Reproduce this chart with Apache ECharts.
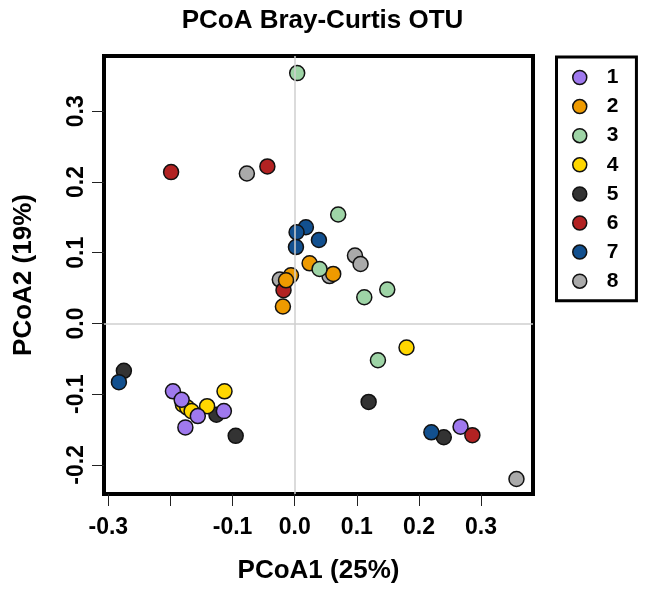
<!DOCTYPE html>
<html>
<head>
<meta charset="utf-8">
<title>PCoA Bray-Curtis OTU</title>
<script src="https://cdn.jsdelivr.net/npm/echarts@6/dist/echarts.min.js"></script>
<style>
  html, body { margin: 0; padding: 0; background: #fff; }
  #chart { width: 645px; height: 589px; }
</style>
</head>
<body>
<div id="chart"></div>
<script>
// Sample coordinates on the first two principal coordinates, one array per group
const group1 = [[-0.196, -0.096], [-0.182, -0.108], [-0.156, -0.131], [-0.114, -0.124], [-0.176, -0.147], [0.267, -0.146]];
const group2 = [[0.024, 0.085], [0.062, 0.070], [-0.006, 0.068], [-0.014, 0.061], [-0.019, 0.024]];
const group3 = [[0.004, 0.354], [0.070, 0.154], [0.040, 0.077], [0.112, 0.037], [0.149, 0.048], [0.134, -0.052]];
const group4 = [[0.180, -0.034], [-0.113, -0.096], [-0.141, -0.117], [-0.180, -0.115], [-0.173, -0.119], [-0.166, -0.124]];
const group5 = [[-0.275, -0.067], [0.119, -0.111], [0.240, -0.161], [-0.095, -0.159], [-0.126, -0.129]];
const group6 = [[-0.199, 0.214], [-0.044, 0.222], [-0.018, 0.047], [0.286, -0.158]];
const group7 = [[0.018, 0.136], [0.003, 0.129], [0.039, 0.118], [0.002, 0.108], [-0.283, -0.083], [0.220, -0.154]];
const group8 = [[-0.077, 0.212], [0.097, 0.096], [0.106, 0.084], [-0.024, 0.062], [0.056, 0.067], [0.357, -0.220]];

const groupNames = ['1', '2', '3', '4', '5', '6', '7', '8'];
const groupColors = ['#9F79EE', '#EE9A00', '#9ED4A6', '#FFD700', '#333333', '#B22222', '#12508F', '#AAAAAA'];
const groupData = [group1, group2, group3, group4, group5, group6, group7, group8];

// Tick positions and labelled ticks
const xTicks = [-0.3, -0.2, -0.1, 0, 0.1, 0.2, 0.3];
const xTickLabels = [-0.3, -0.1, 0, 0.1, 0.2, 0.3];
const yTicks = [-0.2, -0.1, 0, 0.1, 0.2, 0.3];

// Stacking order of the groups (first drawn at the bottom)
const drawOrder = [7, 4, 3, 6, 0, 5, 1, 2];

const FONT = '"Liberation Sans", Arial, Helvetica, sans-serif';

const chart = echarts.init(document.getElementById('chart'), null, { renderer: 'canvas' });

const series = [{
  // zero reference lines
  type: 'scatter',
  data: [],
  silent: true,
  markLine: {
    silent: true,
    symbol: 'none',
    label: { show: false },
    lineStyle: { color: '#cfcfcf', width: 1.5, type: 'solid' },
    data: [{ xAxis: 0 }, { yAxis: 0 }]
  }
}];

drawOrder.forEach(function (i) {
  series.push({
    type: 'scatter',
    name: groupNames[i],
    data: groupData[i],
    symbol: 'circle',
    symbolSize: 15,
    itemStyle: { color: groupColors[i], borderColor: '#111', borderWidth: 1.5, opacity: 1 },
    emphasis: { disabled: true }
  });
});

chart.setOption({
  animation: false,
  backgroundColor: '#fff',
  title: {
    text: 'PCoA Bray-Curtis OTU',
    left: 'center',
    top: 8,
    padding: 0,
    textStyle: { fontSize: 26, fontWeight: 'bold', color: '#000', fontFamily: FONT }
  },
  grid: {
    left: 104,
    top: 56,
    right: 112,
    bottom: 92,
    show: true,
    borderColor: '#000',
    borderWidth: 4,
    backgroundColor: 'transparent'
  },
  legend: {
    data: groupNames,
    orient: 'vertical',
    left: 556.5,
    top: 57,
    padding: [10, 18, 9, 15.5],
    itemWidth: 30,
    itemHeight: 14,
    itemGap: 8.1,
    icon: 'circle',
    selectedMode: false,
    borderColor: '#000',
    borderWidth: 3,
    itemStyle: { borderColor: '#111', borderWidth: 1.5 },
    textStyle: { fontSize: 21, fontWeight: 'bold', color: '#000', fontFamily: FONT, lineHeight: 20, padding: [0, 0, 0, 7] }
  },
  xAxis: {
    type: 'value',
    min: -0.307,
    max: 0.3836,
    axisLine: { show: false, onZero: false },
    splitLine: { show: false },
    axisTick: { show: true, length: 12, customValues: xTicks, lineStyle: { color: '#222', width: 1 } },
    axisLabel: {
      customValues: xTickLabels,
      formatter: function (v) { return Number(v).toFixed(1); },
      fontSize: 23,
      fontWeight: 'bold',
      color: '#000',
      fontFamily: FONT,
      margin: 22
    },
    name: 'PCoA1 (25%)',
    nameLocation: 'middle',
    nameGap: 64,
    nameTextStyle: { fontSize: 26, fontWeight: 'bold', color: '#000', fontFamily: FONT }
  },
  yAxis: {
    type: 'value',
    min: -0.2412,
    max: 0.3782,
    axisLine: { show: false, onZero: false },
    splitLine: { show: false },
    axisTick: { show: true, length: 12, customValues: yTicks, lineStyle: { color: '#222', width: 1 } },
    axisLabel: {
      customValues: yTicks,
      formatter: function (v) { return Number(v).toFixed(1); },
      rotate: 90,
      fontSize: 23,
      fontWeight: 'bold',
      color: '#000',
      fontFamily: FONT,
      margin: 16
    },
    name: 'PCoA2 (19%)',
    nameLocation: 'middle',
    nameGap: 67,
    nameTextStyle: { fontSize: 26, fontWeight: 'bold', color: '#000', fontFamily: FONT }
  },
  series: series
});
</script>
</body>
</html>
